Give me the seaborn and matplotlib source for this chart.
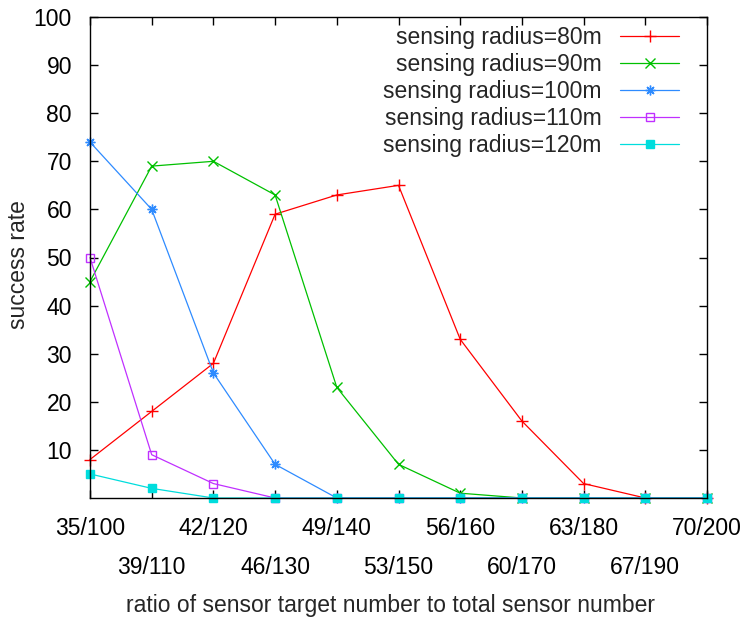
import matplotlib
matplotlib.use("Agg")
import matplotlib.pyplot as plt
import seaborn as sns
import pandas as pd

categories = ["35/100", "39/110", "42/120", "46/130", "49/140", "53/150",
              "56/160", "60/170", "63/180", "67/190", "70/200"]
series_names = ["sensing radius=80m", "sensing radius=90m", "sensing radius=100m",
                "sensing radius=110m", "sensing radius=120m"]
r80 = [8, 18, 28, 59, 63, 65, 33, 16, 3, 0, 0]
r90 = [45, 69, 70, 63, 23, 7, 1, 0, 0, 0, 0]
r100 = [74, 60, 26, 7, 0, 0, 0, 0, 0, 0, 0]
r110 = [50, 9, 3, 0, 0, 0, 0, 0, 0, 0, 0]
r120 = [5, 2, 0, 0, 0, 0, 0, 0, 0, 0, 0]
y_ticks = [10, 20, 30, 40, 50, 60, 70, 80, 90, 100]

sns.set_style("ticks")
plt.rcParams['font.family'] = ['Liberation Sans', 'DejaVu Sans']
FS = 16.5

fig = plt.figure(figsize=(7.46, 6.19), dpi=100)
ax = fig.add_axes([90/746, 121/619, 617/746, 481/619])

colors = ["#FF0000", "#00C000", "#2E8BFF", "#C030FF", "#00DDDD"]
markers = ["+", "x", (8, 2, 0), "s", "s"]
mfcs = [None, None, None, "none", None]
sizes = [8, 6.5, 7, 5.5, 5.5]
all_vals = [r80, r90, r100, r110, r120]

idx = list(range(len(categories)))
for name, vals, c, m, mfc, ms in zip(series_names, all_vals, colors, markers, mfcs, sizes):
    df = pd.DataFrame({"x": idx, "y": vals})
    kw = dict(marker=m, markersize=ms, markeredgewidth=1.0, linewidth=0.9,
              color=c, markeredgecolor=c, label=name, clip_on=False)
    if mfc is not None:
        kw["markerfacecolor"] = mfc
    sns.lineplot(data=df, x="x", y="y", ax=ax, **kw)

ax.set_xlim(0, len(categories) - 1)
ax.set_ylim(0, 100)
ax.set_yticks(y_ticks)
ax.set_yticklabels([str(v) for v in y_ticks], fontsize=FS)

even = idx[0::2]
odd = idx[1::2]
ax.set_xticks(even)
ax.set_xticklabels([categories[i] for i in even], fontsize=FS)
ax.set_xticks(odd, minor=True)
ax.set_xticklabels([categories[i] for i in odd], minor=True, fontsize=FS)

ax.tick_params(axis='both', which='both', direction='in', length=6, width=1,
               top=True, right=True, colors='black')
ax.tick_params(axis='x', which='major', pad=13.5)
ax.tick_params(axis='x', which='minor', pad=42)
ax.tick_params(axis='y', pad=13)

for s in ax.spines.values():
    s.set_color('black')
    s.set_linewidth(1.0)

ax.set_xlabel("ratio of sensor target number to total sensor number", fontsize=FS)
ax.xaxis.set_label_coords((390 - 90) / 617, (498 - 594) / 481)
ax.set_ylabel("success rate", fontsize=FS)
ax.yaxis.set_label_coords((30 - 90) / 617, (498 - 265) / 481)

leg = ax.legend(loc='upper right', bbox_to_anchor=(0.97, 1.0), frameon=False,
                markerfirst=False, fontsize=FS, handlelength=2.6,
                labelspacing=0.17, handletextpad=0.8, borderaxespad=0)

fig.savefig("out.png", dpi=100)
